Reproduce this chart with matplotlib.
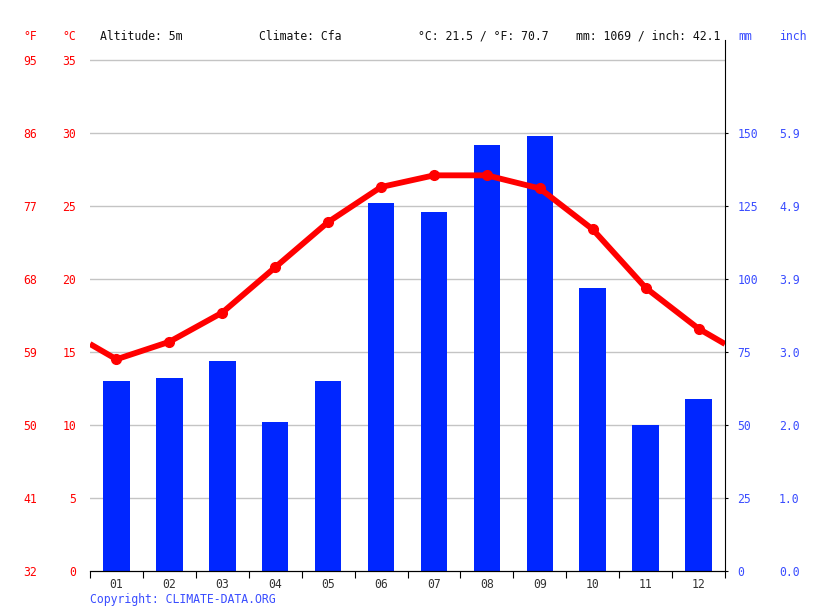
import matplotlib.pyplot as plt
import numpy as np

months = ["01", "02", "03", "04", "05", "06", "07", "08", "09", "10", "11", "12"]
temp_c = [14.5, 15.7, 17.7, 20.8, 23.9, 26.3, 27.1, 27.1, 26.2, 23.4, 19.4, 16.6]
precip_mm = [65, 66, 72, 51, 65, 126, 123, 146, 149, 97, 50, 59]
c_ticks = [0, 5, 10, 15, 20, 25, 30, 35]
f_labels = ["32", "41", "50", "59", "68", "77", "86", "95"]
mm_ticks = [0, 25, 50, 75, 100, 125, 150]
inch_labels = ["0.0", "1.0", "2.0", "3.0", "3.9", "4.9", "5.9"]
header = ["Altitude: 5m", "Climate: Cfa", "°C: 21.5 / °F: 70.7", "mm: 1069 / inch: 42.1"]

RED = "#ff0000"
BLUE = "#0026ff"
LBLUE = "#3a4dff"
FS = 8.3
plt.rcParams["font.family"] = "DejaVu Sans Mono"

W, H = 815, 611
fig = plt.figure(figsize=(W / 100, H / 100), dpi=100)
ax = fig.add_axes([90 / W, 40 / H, 635 / W, 531 / H])
ax2 = ax.twinx()

ymax_c = 531 / 14.6
x = np.arange(1, 13)

ax.set_xlim(0.5, 12.5)
ax.set_ylim(0, ymax_c)
ax2.set_ylim(0, ymax_c * 5)

# bars + grid on the mm axis (behind the line)
for c in c_ticks[1:]:
    ax2.axhline(c * 5, color="#c4c4c4", lw=1, zorder=0)
ax2.bar(x, precip_mm, width=0.5, color=BLUE, zorder=2)

# temperature line on top, extended to the edges
edge = (temp_c[0] + temp_c[-1]) / 2
lx = np.concatenate([[0.5], x, [12.5]])
ly = np.concatenate([[edge], temp_c, [edge]])
ax.set_zorder(ax2.get_zorder() + 1)
ax.patch.set_visible(False)
ax.plot(lx, ly, color=RED, lw=4.2, solid_capstyle="butt", zorder=3)
ax.plot(x, temp_c, "o", color=RED, ms=7, zorder=4)

# spines
for a in (ax, ax2):
    for s in ("top", "left"):
        a.spines[s].set_visible(False)
ax.spines["right"].set_visible(False)
ax2.spines["right"].set_color("black")
ax2.spines["bottom"].set_color("black")
ax.spines["bottom"].set_color("black")

# x axis
ax.set_xticks(np.arange(0.5, 13, 1), minor=False)
ax.set_xticklabels([])
ax.tick_params(axis="x", length=5, direction="out", color="black")
ax.set_xticks(x, minor=True)
ax.set_xticklabels(months, minor=True)
ax.tick_params(axis="x", which="minor", length=0, pad=5, labelsize=FS, labelcolor="#333333")

# left °C axis
ax.set_yticks(c_ticks)
ax.set_yticklabels([str(c) for c in c_ticks])
ax.tick_params(axis="y", length=0, pad=10, labelsize=FS, labelcolor=RED)

# left °F axis
secf = ax.secondary_yaxis(-0.083)
secf.set_yticks(c_ticks)
secf.set_yticklabels(f_labels)
secf.spines["left"].set_visible(False)
secf.tick_params(axis="y", length=0, pad=0, labelsize=FS, labelcolor=RED)

# right mm axis
ax2.set_yticks(mm_ticks)
ax2.set_yticklabels([str(m) for m in mm_ticks])
ax2.tick_params(axis="y", length=2.5, pad=6.5, labelsize=FS, labelcolor=LBLUE, color="black")

# right inch axis
seci = ax2.secondary_yaxis(1.085)
seci.set_yticks(mm_ticks)
seci.set_yticklabels(inch_labels)
seci.spines["right"].set_visible(False)
seci.tick_params(axis="y", length=0, pad=0, labelsize=FS, labelcolor=LBLUE)

# header
ty = 1 - 36 / H
fig.text(37 / W, ty, "°F", color=RED, fontsize=FS, ha="right", va="center")
fig.text(76 / W, ty, "°C", color=RED, fontsize=FS, ha="right", va="center")
for hx, txt in zip([100, 259, 418, 576], header):
    fig.text(hx / W, ty, txt, color="#111111", fontsize=FS, ha="left", va="center")
fig.text(738 / W, ty, "mm", color=LBLUE, fontsize=FS, ha="left", va="center")
fig.text(779 / W, ty, "inch", color=LBLUE, fontsize=FS, ha="left", va="center")

fig.text(90 / W, 1 - 599 / H, "Copyright: CLIMATE-DATA.ORG", color=LBLUE,
         fontsize=FS, ha="left", va="center")

fig.savefig("out.png", dpi=100)
